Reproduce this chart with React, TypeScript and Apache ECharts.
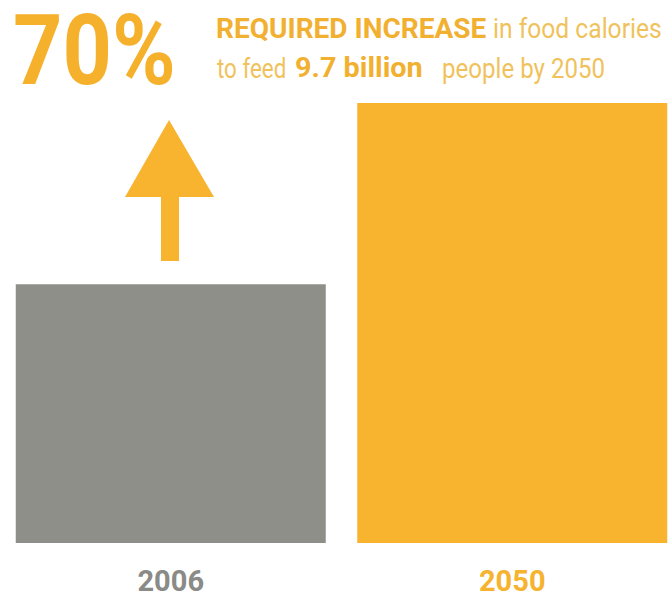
import React, { useEffect, useRef } from "react";
import * as echarts from "echarts";

const categories = ["2006", "2050"];
const calories = [100, 170];
const barColors = ["#8f8f89", "#f8b32f"];
const labelColors = ["#8a8a86", "#f6b330"];
const headline = "70%";
const line1Bold = "REQUIRED INCREASE";
const line1Rest = "in food calories";
const line2Start = "to feed";
const line2Bold = "9.7 billion";
const line2Rest = "people by 2050";

const FONT = "Roboto, 'Noto Sans', sans-serif";
const BOLD_C = "#f2b031";
const LIGHT_C = "#f0c25c";
const ORANGE = "#f8b32f";

export default function App() {
  const ref = useRef<HTMLDivElement>(null);
  useEffect(() => {
    if (!ref.current) return;
    const chart = echarts.init(ref.current, null, { renderer: "svg" });
    const txt = (
      text: string,
      x: number,
      y: number,
      size: number,
      bold: boolean,
      fill: string,
      scaleX: number
    ) => ({
      type: "text",
      x,
      y,
      scaleX,
      style: {
        text,
        fontFamily: FONT,
        fontWeight: bold ? "bold" : "normal",
        fontSize: size,
        lineHeight: Math.round(size * 0.9),
        fill,
        align: "left",
        verticalAlign: "middle",
      },
    });
    chart.setOption({
      animation: false,
      backgroundColor: "#ffffff",
      grid: { left: -1, width: 684, top: 103, bottom: 54, containLabel: false },
      xAxis: {
        type: "category",
        data: categories,
        axisLine: { show: false },
        axisTick: { show: false },
        axisLabel: {
          margin: 23,
          fontFamily: FONT,
          fontSize: 29,
          fontWeight: "bold",
          color: (_v: string, i: number) => labelColors[i],
        },
      },
      yAxis: { type: "value", min: 0, max: 170, show: false, splitLine: { show: false } },
      series: [
        {
          type: "bar",
          barWidth: 310,
          data: calories.map((v, i) => ({ value: v, itemStyle: { color: barColors[i] } })),
        },
      ],
      graphic: [
        txt(headline, 13, 51, 98, true, "#f6b12c", 0.88),
        txt(line1Bold, 216, 28, 28, true, BOLD_C, 1),
        txt(line1Rest, 493, 28, 28, false, LIGHT_C, 0.88),
        txt(line2Start, 217, 68, 28, false, LIGHT_C, 0.8),
        txt(line2Bold, 295, 68, 28, true, BOLD_C, 1.03),
        txt(line2Rest, 442, 68, 28, false, LIGHT_C, 0.86),
        {
          type: "polygon",
          shape: { points: [[125, 197], [169, 120], [214, 197]] },
          style: { fill: ORANGE },
        },
        {
          type: "rect",
          shape: { x: 161, y: 196, width: 18, height: 65 },
          style: { fill: ORANGE },
        },
      ],
    });
    return () => chart.dispose();
  }, []);
  return (
    <div style={{ position: "absolute", left: 0, top: 0, width: 670, height: 597, overflow: "hidden" }}>
      <div ref={ref} style={{ width: 700, height: 597 }} />
    </div>
  );
}
